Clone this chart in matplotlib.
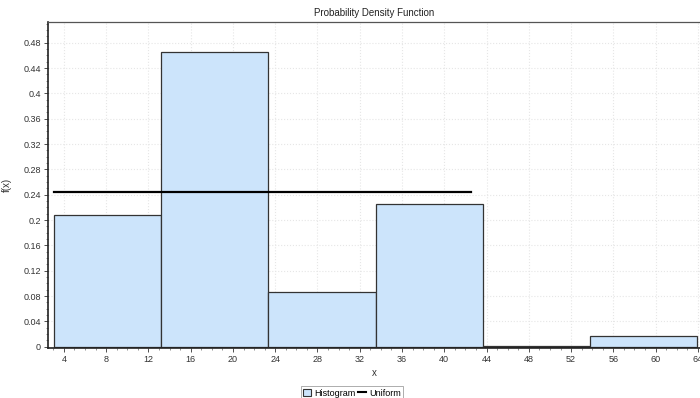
import matplotlib
matplotlib.use('Agg')
import matplotlib.pyplot as plt
from matplotlib.ticker import MultipleLocator
from matplotlib.patches import Patch
from matplotlib.lines import Line2D

# histogram bins (left edges) and heights
bin_edges = [3.1, 13.2, 23.35, 33.5, 43.65, 53.8, 63.95]
heights = [0.208, 0.465, 0.0865, 0.225, 0.0015, 0.0175]

# uniform fit line
uniform_x = [3.1, 42.5]
uniform_y = [0.245, 0.245]

plt.rcParams['font.family'] = ['Liberation Sans', 'DejaVu Sans']

fig = plt.figure(figsize=(7, 3.98), dpi=100)
ax = fig.add_axes([0.0686, 0.1264, 0.9314, 0.8171])

widths = [bin_edges[i + 1] - bin_edges[i] for i in range(len(heights))]
ax.bar(bin_edges[:-1], heights, width=widths, align='edge',
       color='#cce4fb', edgecolor='#333333', linewidth=0.9, zorder=2)
ax.plot(uniform_x, uniform_y, color='black', linewidth=1.6, zorder=3)

ax.set_xlim(2.5, 64.2)
ax.set_ylim(-0.0015, 0.512)
ax.xaxis.set_minor_locator(MultipleLocator(1))
ax.yaxis.set_minor_locator(MultipleLocator(0.01))
ax.set_xticks([4, 8, 12, 16, 20, 24, 28, 32, 36, 40, 44, 48, 52, 56, 60, 64])
ax.set_xticklabels(['4', '8', '12', '16', '20', '24', '28', '32', '36', '40',
                    '44', '48', '52', '56', '60', '64'])
ax.set_yticks([0, 0.04, 0.08, 0.12, 0.16, 0.2, 0.24, 0.28, 0.32, 0.36, 0.4, 0.44, 0.48])
ax.set_yticklabels(['0', '0.04', '0.08', '0.12', '0.16', '0.2', '0.24', '0.28',
                    '0.32', '0.36', '0.4', '0.44', '0.48'])
ax.tick_params(labelsize=6.5, colors='#333333', length=3, width=0.6, pad=2)
ax.tick_params(which='minor', length=1.5, width=0.5, colors='#666666')

ax.grid(True, which='major', color='#e6e6e6', linestyle=':', linewidth=0.8, zorder=0)
ax.set_axisbelow(True)

for side in ['left', 'bottom']:
    ax.spines[side].set_color('#222222')
    ax.spines[side].set_linewidth(1.2)
ax.spines['top'].set_color('#555555')
ax.spines['top'].set_linewidth(0.9)
ax.spines['right'].set_visible(False)

ax.set_title('Probability Density Function', fontsize=7, color='#222222', pad=5)
ax.set_xlabel('x', fontsize=7, color='#333333', labelpad=3)
ax.set_ylabel('f(x)', fontsize=7, color='#333333')
ax.yaxis.set_label_coords(-0.056, 0.5)

handles = [Patch(facecolor='#cce4fb', edgecolor='#333333', linewidth=0.8),
           Line2D([0], [0], color='black', linewidth=1.5)]
leg = fig.legend(handles, ['Histogram', 'Uniform'], loc='lower left',
                 bbox_to_anchor=(0.43, -0.005), ncol=2, fontsize=6.5,
                 frameon=True, fancybox=False, handlelength=0.9, handleheight=0.9,
                 handletextpad=0.3, columnspacing=0.3, borderpad=0.25,
                 borderaxespad=0)
leg.get_frame().set_edgecolor('#888888')
leg.get_frame().set_linewidth(0.6)

fig.savefig('out.png', dpi=100)
